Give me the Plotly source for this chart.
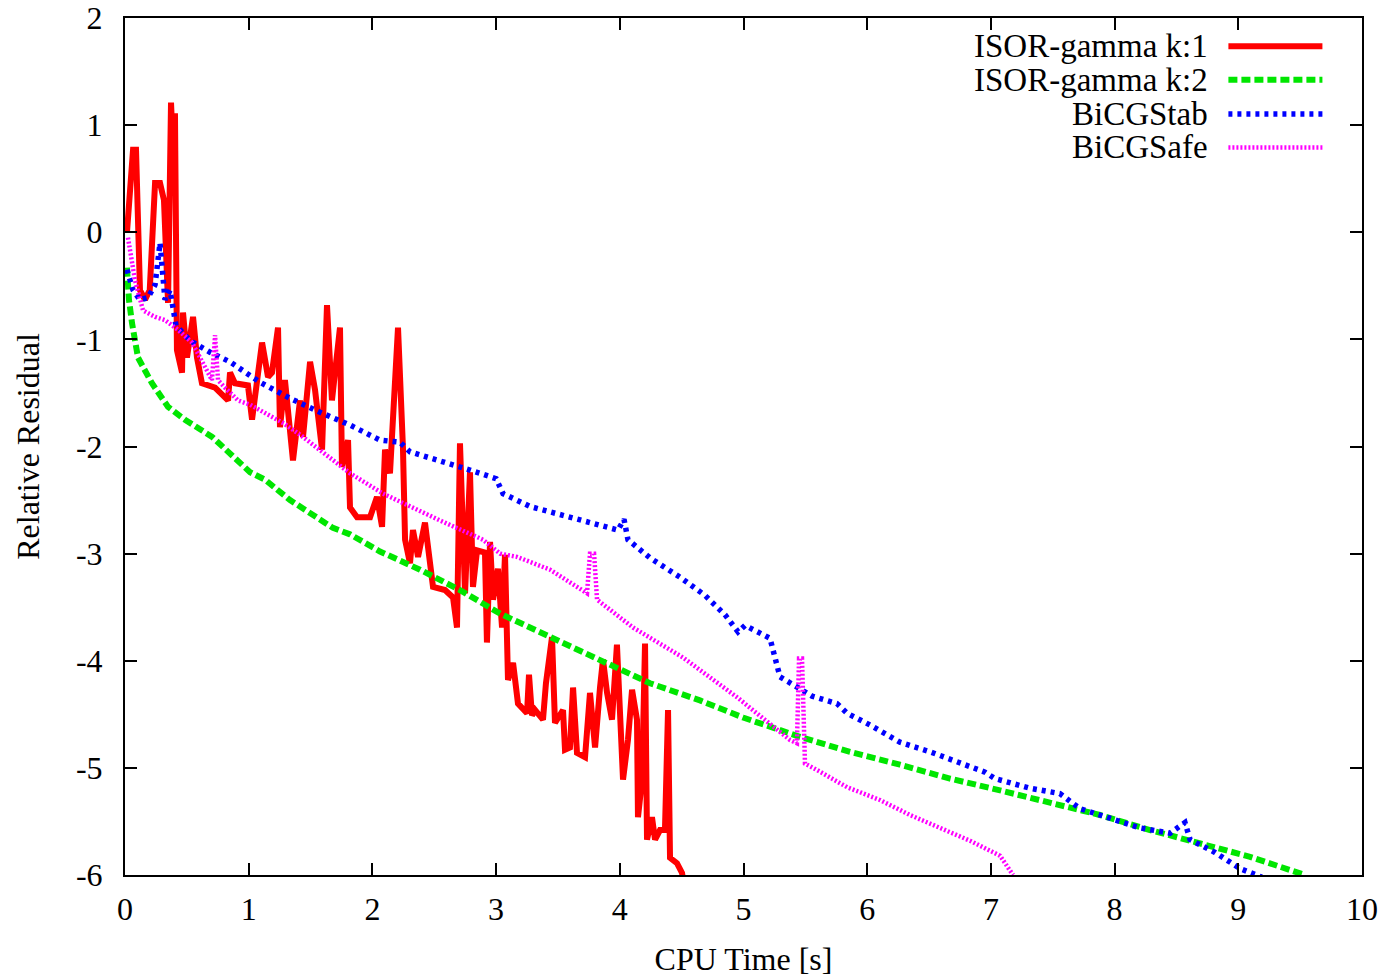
import plotly.graph_objects as go

# ---------------- data ----------------
isor1_t = [0.016, 0.065, 0.089, 0.121, 0.162, 0.20, 0.243, 0.283, 0.315, 0.348, 0.372, 0.388, 0.404,
           0.42, 0.461, 0.469, 0.501, 0.55, 0.582, 0.622, 0.728, 0.833, 0.849, 0.889, 0.994, 1.027,
           1.108, 1.156, 1.188, 1.237, 1.253, 1.293, 1.358, 1.415, 1.439, 1.496, 1.536, 1.593, 1.633,
           1.673, 1.738, 1.754, 1.803, 1.819, 1.876, 1.981, 2.037, 2.078, 2.102, 2.142, 2.207, 2.247,
           2.264, 2.304, 2.328, 2.369, 2.425, 2.449, 2.49, 2.587, 2.652, 2.684, 2.708, 2.749, 2.789,
           2.813, 2.846, 2.91, 2.926, 2.951, 2.975, 3.015, 3.048, 3.072, 3.096, 3.137, 3.177, 3.25,
           3.266, 3.29, 3.315, 3.379, 3.403, 3.452, 3.476, 3.541, 3.557, 3.597, 3.622, 3.654, 3.719,
           3.759, 3.80, 3.84, 3.864, 3.897, 3.937, 3.977, 4.002, 4.026, 4.066, 4.099, 4.139, 4.147,
           4.18, 4.204, 4.22, 4.26, 4.285, 4.325, 4.365, 4.39, 4.406, 4.462, 4.503, 4.51]
isor1_r = [0.00, 0.77, 0.77, -0.54, -0.63, -0.54, 0.46, 0.46, 0.30, -0.66, 1.21, 0.77, 1.11,
           -1.10, -1.31, -0.75, -1.17, -0.79, -1.17, -1.41, -1.45, -1.57, -1.31, -1.41, -1.43, -1.75,
           -1.03, -1.35, -1.31, -0.89, -1.82, -1.38, -2.13, -1.57, -1.91, -1.21, -1.47, -2.03, -0.68,
           -1.57, -0.89, -2.19, -1.94, -2.57, -2.66, -2.66, -2.47, -2.75, -2.03, -2.25, -0.89, -2.01,
           -2.87, -3.09, -2.78, -3.03, -2.71, -2.94, -3.31, -3.34, -3.41, -3.69, -1.97, -3.37, -2.24,
           -3.31, -2.97, -2.99, -3.83, -2.89, -3.43, -3.14, -3.69, -3.01, -4.18, -4.02, -4.40, -4.49,
           -4.13, -4.51, -4.46, -4.55, -4.21, -3.78, -4.58, -4.46, -4.83, -4.81, -4.25, -4.86, -4.90,
           -4.30, -4.81, -4.25, -3.99, -4.30, -4.55, -3.85, -4.49, -5.11, -4.74, -4.27, -4.55, -5.46,
           -5.11, -3.84, -5.67, -5.46, -5.67, -5.58, -5.58, -4.46, -5.84, -5.89, -5.98, -6.03]

isor2_t = [0.016, 0.032, 0.057, 0.105, 0.218, 0.348, 0.485, 0.704, 1.011, 1.132, 1.334, 1.681,
           1.819, 2.061, 2.385, 2.708, 3.032, 3.436, 3.84, 4.244, 4.648, 4.996, 5.457, 5.861, 6.265,
           6.669, 7.074, 7.478, 7.882, 8.286, 8.69, 9.095, 9.539]
isor2_r = [-0.33, -0.63, -0.85, -1.17, -1.41, -1.63, -1.75, -1.91, -2.24, -2.31, -2.50, -2.76,
           -2.82, -2.98, -3.15, -3.34, -3.56, -3.78, -3.99, -4.21, -4.37, -4.53, -4.71, -4.85, -4.97,
           -5.10, -5.21, -5.33, -5.44, -5.58, -5.70, -5.83, -6.00]

bicgstab_t = [0.016, 0.065, 0.121, 0.186, 0.243, 0.283, 0.323, 0.364, 0.412, 0.525, 0.687, 0.849,
              1.091, 1.334, 1.576, 1.819, 2.061, 2.223, 2.304, 2.546, 2.789, 3.0, 3.056, 3.274,
              3.517, 3.759, 3.985, 4.034, 4.066, 4.244, 4.487, 4.689, 4.85, 4.956, 5.012, 5.214,
              5.295, 5.457, 5.554, 5.756, 5.837, 6.023, 6.265, 6.508, 6.75, 6.952, 7.033, 7.316,
              7.558, 7.72, 7.963, 8.205, 8.448, 8.569, 8.61, 8.812, 9.014, 9.19]
bicgstab_r = [-0.35, -0.54, -0.63, -0.61, -0.49, -0.10, -0.63, -0.54, -0.87, -1.01, -1.12, -1.21,
              -1.40, -1.55, -1.68, -1.80, -1.94, -1.96, -2.05, -2.13, -2.22, -2.30, -2.44, -2.56,
              -2.63, -2.71, -2.78, -2.68, -2.87, -3.04, -3.22, -3.39, -3.57, -3.73, -3.67, -3.79,
              -4.15, -4.27, -4.33, -4.40, -4.49, -4.60, -4.76, -4.85, -4.95, -5.04, -5.10, -5.19,
              -5.24, -5.38, -5.47, -5.56, -5.61, -5.51, -5.67, -5.79, -5.94, -6.02]

bicgsafe_t = [0.024, 0.081, 0.146, 0.243, 0.323, 0.428, 0.542, 0.647, 0.703, 0.728, 0.752, 0.808,
              0.914, 1.011, 1.132, 1.277, 1.415, 1.552, 1.819, 2.086, 2.247, 2.546, 2.894, 3.032,
              3.169, 3.436, 3.735, 3.759, 3.792, 3.816, 4.107, 4.511, 4.947, 5.109, 5.376, 5.432,
              5.449, 5.473, 5.497, 5.594, 5.837, 6.103, 6.346, 6.588, 6.831, 7.074, 7.179]
bicgsafe_r = [-0.05, -0.45, -0.73, -0.79, -0.82, -0.91, -1.03, -1.26, -1.38, -0.96, -1.38, -1.45,
              -1.57, -1.61, -1.69, -1.78, -1.89, -2.01, -2.25, -2.44, -2.53, -2.69, -2.87, -3.00,
              -3.03, -3.15, -3.37, -3.00, -3.00, -3.43, -3.69, -3.97, -4.34, -4.49, -4.74, -4.77,
              -3.98, -3.98, -4.96, -5.02, -5.18, -5.30, -5.44, -5.56, -5.68, -5.82, -6.00]

series_names = ["ISOR-gamma k:1", "ISOR-gamma k:2", "BiCGStab", "BiCGSafe"]
series_x = [isor1_t, isor2_t, bicgstab_t, bicgsafe_t]
series_y = [isor1_r, isor2_r, bicgstab_r, bicgsafe_r]
colors = ["#ff0000", "#00e600", "#0000ff", "#ff00ff"]
dashes = ["solid", "9px,4px", "4px,5px", "2px,2px"]
widths = [6, 6, 5.5, 4.5]

x_ticks = list(range(0, 11))
y_ticks = list(range(-6, 3))

FONT = "Liberation Serif, Times New Roman, serif"

fig = go.Figure()
for name, xs, ys, c, d, w in zip(series_names, series_x, series_y, colors, dashes, widths):
    fig.add_trace(go.Scatter(x=xs, y=ys, mode="lines", name=name,
                             line=dict(color=c, width=w, dash=d), showlegend=False))

# legend drawn gnuplot-style: text right-aligned, sample line on the right
leg_y = [0.967, 0.928, 0.888, 0.849]
for name, c, d, w, yy in zip(series_names, colors, dashes, widths, leg_y):
    fig.add_annotation(x=0.877, y=yy, xref="paper", yref="paper", text=name,
                       showarrow=False, xanchor="right", yanchor="middle",
                       font=dict(family=FONT, size=33, color="black"))
    fig.add_shape(type="line", xref="paper", yref="paper", x0=0.892, x1=0.968, y0=yy, y1=yy,
                  line=dict(color=c, width=w, dash=d))

axis_common = dict(showline=True, linecolor="black", linewidth=2, mirror="allticks",
                   ticks="inside", ticklen=12, tickwidth=2, tickcolor="black",
                   showgrid=False, zeroline=False, automargin=False,
                   tickfont=dict(family=FONT, size=32, color="black"))

fig.update_xaxes(range=[0, 10], tickvals=x_ticks, ticktext=[str(v) for v in x_ticks],
                 title=dict(text="CPU Time [s]", font=dict(family=FONT, size=32, color="black"),
                            standoff=21),
                 ticklabelstandoff=5, **axis_common)
fig.update_yaxes(range=[-6, 2], tickvals=y_ticks, ticktext=[str(v) for v in y_ticks],
                 title=dict(text="Relative Residual", font=dict(family=FONT, size=32, color="black"),
                            standoff=27),
                 ticklabelstandoff=14, **axis_common)

fig.update_layout(width=1391, height=978, plot_bgcolor="white", paper_bgcolor="white",
                  margin=dict(l=125, r=29, t=18, b=103), showlegend=False,
                  font=dict(family=FONT, size=32, color="black"))

fig.write_html("out.html", config={"displayModeBar": False},
               post_script="document.body.style.margin='0';")
